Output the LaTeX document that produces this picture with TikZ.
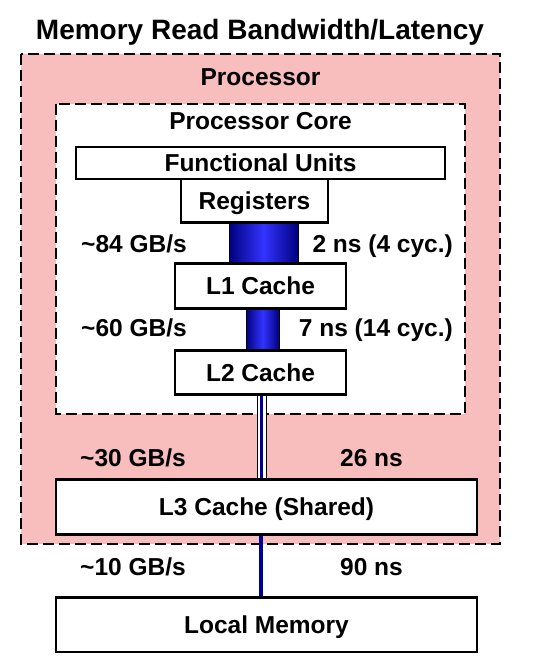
\documentclass[tikz,border=0pt]{standalone}
\usepackage{fontspec}
\setmainfont{Liberation Sans}
\usetikzlibrary{positioning}
\definecolor{procpink}{RGB}{248,189,189}
\definecolor{barnavy}{RGB}{0,0,128}
\definecolor{barbright}{RGB}{51,51,255}
\definecolor{linkblue}{RGB}{0,0,150}
\tikzset{
  lbl/.style={font=\fontsize{24.5}{28}\selectfont\bfseries, inner sep=0pt, anchor=base},
  membox/.style={draw=black, line width=2pt, fill=white, inner sep=0pt,
    font=\fontsize{24.5}{28}\selectfont\bfseries, text depth=0pt},
  region/.style={draw=black, line width=2pt, dash pattern=on 11pt off 5pt, inner sep=0pt},
  bar/.style={left color=barnavy, right color=barnavy, middle color=barbright, draw=black, line width=0.4pt},
}
\begin{document}
\begin{tikzpicture}[x=1pt,y=-1pt]
\useasboundingbox (0,0) rectangle (535,671);
% title
\node[lbl, font=\fontsize{28}{32}\selectfont\bfseries] (title) at (260,39.3) {Memory Read Bandwidth/Latency};
% processor region
\draw[region, fill=procpink] (21,54) rectangle (500,544);
\node[lbl] (proclbl) at (260.5,86) {Processor};
% core region
\draw[region, fill=white] (56,104) rectangle (465,414);
\node[lbl] (corelbl) at (260.5,129.5) {Processor Core};
% boxes
\node[membox, minimum width=369pt, minimum height=32pt] (fu) at (260.5,163) {Functional Units};
\node[membox, minimum width=147pt, minimum height=43pt] (reg) at (254.5,200.5) {Registers};
\node[membox, minimum width=171pt, minimum height=44pt] (l1) at (260.5,286) {L1 Cache};
\node[membox, minimum width=171pt, minimum height=43pt] (l2) at (260.5,372.5) {L2 Cache};
\node[membox, minimum width=421pt, minimum height=54pt] (l3) at (266.5,507) {L3 Cache (Shared)};
\node[membox, minimum width=421pt, minimum height=54pt] (mem) at (266.5,625) {Local Memory};
% bars
\shade[bar] (229,0 |- reg.south) rectangle (298,0 |- l1.north);
\shade[bar] (246,0 |- l1.south) rectangle (279,0 |- l2.north);
% thin double link L2 -> L3
\draw[black, line width=0.8pt, fill=white] (257,0 |- l2.south) rectangle (266,0 |- l3.north);
\fill[linkblue] (259.8,0 |- l2.south) rectangle (263.3,0 |- l3.north);
% link L3 -> memory
\draw[linkblue, line width=3.8pt] (261.2,0 |- l3.south) -- (261.2,0 |- mem.north);
% redraw box borders over connector ends
\draw[black, line width=2pt] (reg.south west) -- (reg.south east);
\draw[black, line width=2pt] (l1.north west) -- (l1.north east);
\draw[black, line width=2pt] (l1.south west) -- (l1.south east);
\draw[black, line width=2pt] (l2.north west) -- (l2.north east);
\draw[black, line width=2pt] (l2.south west) -- (l2.south east);
\draw[black, line width=2pt] (l3.north west) -- (l3.north east);
\draw[black, line width=2pt] (l3.south west) -- (l3.south east);
\draw[black, line width=2pt] (mem.north west) -- (mem.north east);
% labels
\node[lbl, anchor=base west] (bw1) at (81,252.5) {\char`~84 GB/s};
\node[lbl, anchor=base east] (lat1) at (453,252.5) {2 ns (4 cyc.)};
\node[lbl, anchor=base west] (bw2) at (81,336) {\char`~60 GB/s};
\node[lbl, anchor=base east] (lat2) at (453,336) {7 ns (14 cyc.)};
\node[lbl, anchor=base west] (bw3) at (80,466.5) {\char`~30 GB/s};
\node[lbl] (lat3) at (371.5,466.5) {26 ns};
\node[lbl, anchor=base west] (bw4) at (80,575) {\char`~10 GB/s};
\node[lbl] (lat4) at (371.5,575) {90 ns};
\end{tikzpicture}
\end{document}
